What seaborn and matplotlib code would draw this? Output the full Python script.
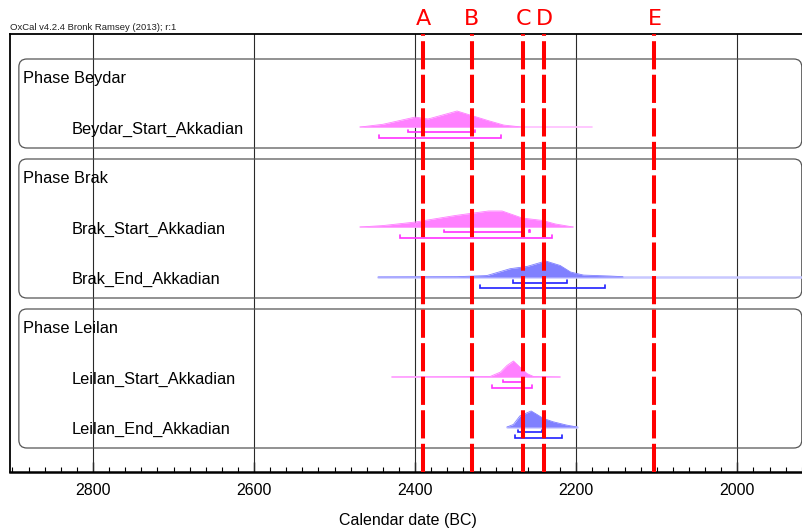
import matplotlib
matplotlib.use("Agg")
import matplotlib.pyplot as plt
import matplotlib.transforms as mtransforms
from matplotlib.patches import FancyBboxPatch
import pandas as pd
import seaborn as sns

# ---------------- data ----------------
header_text = "OxCal v4.2.4 Bronk Ramsey (2013); r:1"
x_label = "Calendar date (BC)"
x_ticks = [2800, 2600, 2400, 2200, 2000]

phase_names = ["Phase Beydar", "Phase Brak", "Phase Leilan"]
phase_events = [
    ["Beydar_Start_Akkadian"],
    ["Brak_Start_Akkadian", "Brak_End_Akkadian"],
    ["Leilan_Start_Akkadian", "Leilan_End_Akkadian"],
]

# posterior densities (years BC, relative height)
beydar_start_years = [2468, 2440, 2400, 2384, 2348, 2330, 2310, 2290, 2268]
beydar_start_dens = [0.0, 0.17, 0.62, 0.50, 1.0, 0.72, 0.41, 0.12, 0.0]
brak_start_years = [2468, 2440, 2400, 2350, 2309, 2292, 2267, 2242, 2226, 2204]
brak_start_dens = [0.0, 0.09, 0.31, 0.72, 1.0, 1.0, 0.56, 0.41, 0.19, 0.0]
brak_end_years = [2446, 2348, 2311, 2282, 2261, 2238, 2220, 2207, 2191, 2158, 2142]
brak_end_dens = [0.0, 0.02, 0.09, 0.52, 0.66, 1.0, 0.72, 0.31, 0.12, 0.06, 0.02]
leilan_start_years = [2429, 2307, 2294, 2286, 2278, 2270, 2261, 2253, 2220]
leilan_start_dens = [0.0, 0.03, 0.31, 0.72, 1.0, 0.62, 0.21, 0.03, 0.0]
leilan_end_years = [2286, 2278, 2270, 2256, 2249, 2241, 2229, 2212, 2199]
leilan_end_dens = [0.0, 0.16, 0.69, 1.0, 0.79, 0.54, 0.33, 0.12, 0.0]

# extent of the thin prior line under each density
prior_ranges = {
    "Beydar_Start_Akkadian": (2468, 2180),
    "Brak_Start_Akkadian": (2468, 2204),
    "Brak_End_Akkadian": (2446, 1900),
    "Leilan_Start_Akkadian": (2429, 2220),
    "Leilan_End_Akkadian": (2286, 2199),
}

# highest posterior density ranges
range_68 = {
    "Beydar_Start_Akkadian": [(2409, 2326)],
    "Brak_Start_Akkadian": [(2364, 2266), (2259, 2257)],
    "Brak_End_Akkadian": [(2279, 2212)],
    "Leilan_Start_Akkadian": [(2291, 2266)],
    "Leilan_End_Akkadian": [(2272, 2243)],
}
range_95 = {
    "Beydar_Start_Akkadian": [(2445, 2293)],
    "Brak_Start_Akkadian": [(2419, 2230)],
    "Brak_End_Akkadian": [(2320, 2164)],
    "Leilan_Start_Akkadian": [(2304, 2255)],
    "Leilan_End_Akkadian": [(2276, 2218)],
}

densities = {
    "Beydar_Start_Akkadian": (beydar_start_years, beydar_start_dens),
    "Brak_Start_Akkadian": (brak_start_years, brak_start_dens),
    "Brak_End_Akkadian": (brak_end_years, brak_end_dens),
    "Leilan_Start_Akkadian": (leilan_start_years, leilan_start_dens),
    "Leilan_End_Akkadian": (leilan_end_years, leilan_end_dens),
}

marker_labels = ["A", "B", "C", "D", "E"]
marker_years = [2390, 2330, 2266, 2240, 2103]

# ---------------- style ----------------
sns.set_theme(style="white")
plt.rcParams["font.family"] = ["Liberation Sans", "DejaVu Sans"]

W, H = 803, 529
fig = plt.figure(figsize=(W / 100, H / 100), dpi=100)
ax_left, ax_right, ax_top, ax_bottom = 10, 805, 34, 472
ax = fig.add_axes([ax_left / W, (H - ax_bottom) / H,
                   (ax_right - ax_left) / W, (ax_bottom - ax_top) / H])

ax.set_xlim(2903, 1916)
ax.set_ylim(7.9, -0.86)

colors = {
    "start": dict(fill="#ff80ff", prior="#ffbfff", bracket="#ff30ff"),
    "end": dict(fill="#8080ff", prior="#c8c8ff", bracket="#2020ff"),
}
peak_h = 0.32       # height of a full-scale density, in row units
off_68, off_95 = 0.11, 0.22
cap = 0.05
text_dy = 0.04      # nudge labels onto the density baseline

row_text = mtransforms.blended_transform_factory(ax.transAxes, ax.transData)

row = 0
box_rows = []
for phase, events in zip(phase_names, phase_events):
    first = row
    ax.text(13 / (ax_right - ax_left), row + text_dy, phase, transform=row_text,
            ha="left", va="center", fontsize=11.8, color="black", zorder=5)
    row += 1
    for ev in events:
        kind = "end" if "_End_" in ev else "start"
        c = colors[kind]
        ax.text(62 / (ax_right - ax_left), row + text_dy, ev, transform=row_text,
                ha="left", va="center", fontsize=11.8, color="black", zorder=5)
        # prior line
        p0, p1 = prior_ranges[ev]
        sns.lineplot(x=[p0, p1], y=[row, row], ax=ax, color=c["prior"],
                     lw=1.8 if kind == "end" else 1.2, zorder=2)
        # posterior density
        yrs, dens = densities[ev]
        tops = [row - d * peak_h for d in dens]
        ax.fill_between(yrs, [row] * len(yrs), tops, color=c["fill"], lw=0, zorder=3)
        sns.lineplot(x=yrs, y=tops, ax=ax, color=c["fill"], lw=0.6, zorder=3,
                     sort=False, estimator=None)
        # range brackets
        for rngs, off in ((range_68[ev], off_68), (range_95[ev], off_95)):
            for a, b in rngs:
                yb = row + off
                ax.plot([a, a, b, b], [yb - cap, yb, yb, yb - cap],
                        color=c["bracket"], lw=1.2, zorder=4,
                        solid_joinstyle="miter")
        row += 1
    box_rows.append((first - 0.36, row - 1 + 0.42))

# rounded phase boxes, drawn in display space so the corners stay circular
box_x0, box_x1 = 2892, 1920
for y0, y1 in box_rows:
    (dx0, dy0) = ax.transData.transform((box_x0, y1))
    (dx1, dy1) = ax.transData.transform((box_x1, y0))
    patch = FancyBboxPatch((dx0, dy0), dx1 - dx0, dy1 - dy0,
                           boxstyle="round,pad=0,rounding_size=8",
                           transform=mtransforms.IdentityTransform(),
                           fill=False, ec="#555555", lw=0.9, zorder=1.5)
    ax.add_artist(patch)

# vertical grid
for xt in x_ticks:
    ax.axvline(xt, color="#2a2a2a", lw=0.8, zorder=1)

# red marker lines with letters
for lab, yr in zip(marker_labels, marker_years):
    ax.axvline(yr, color="#ff0000", lw=2.9, dashes=(7.0, 1.33), zorder=6)
    ax.text(yr, 1 + (ax_top - 19) / (ax_bottom - ax_top), lab,
            transform=mtransforms.blended_transform_factory(ax.transData, ax.transAxes),
            ha="center", va="center", color="#ff0000", fontsize=16,
            family="DejaVu Sans", clip_on=False)

# axes decoration
ax.set_xticks(x_ticks)
ax.set_xticklabels([str(t) for t in x_ticks])
ax.set_xticks(list(range(1920, 2901, 20)), minor=True)
ax.set_yticks([])
ax.tick_params(axis="x", which="major", direction="in", length=7, width=1,
               pad=8, labelsize=11.5, colors="black", bottom=True, top=False)
ax.tick_params(axis="x", which="minor", direction="in", length=3.5, width=0.8,
               colors="black", bottom=True, top=False)
ax.set_xlabel(x_label, fontsize=11.5, labelpad=11, color="black")
ax.set_ylabel("")
for side in ("left", "top"):
    ax.spines[side].set_color("black")
    ax.spines[side].set_linewidth(1.3)
ax.spines["bottom"].set_color("black")
ax.spines["bottom"].set_linewidth(1.8)
ax.spines["right"].set_visible(False)

fig.text(ax_left / W, 1 - 28 / H, header_text, fontsize=6.8, ha="left",
         va="center", color="#222222")

fig.savefig("out.png", dpi=100)
